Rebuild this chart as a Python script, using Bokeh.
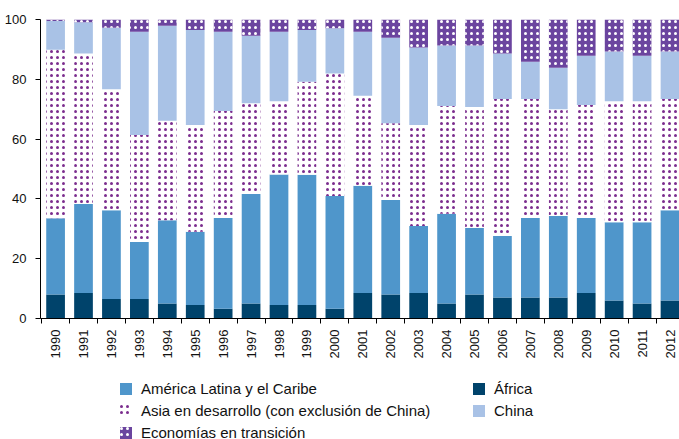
import math
from bokeh.plotting import figure
from bokeh.layouts import column
from bokeh.models import FixedTicker, Legend, LegendItem, ColumnDataSource
from bokeh.embed import file_html
from bokeh.resources import INLINE

years = ["1990", "1991", "1992", "1993", "1994", "1995", "1996", "1997", "1998", "1999",
         "2000", "2001", "2002", "2003", "2004", "2005", "2006", "2007", "2008", "2009",
         "2010", "2011", "2012"]

africa = [8.0, 8.5, 6.5, 6.5, 5.0, 4.5, 3.3, 5.0, 4.5, 4.5, 3.3, 8.5, 8.0, 8.5, 5.0, 8.0,
          7.0, 7.0, 7.0, 8.5, 6.0, 5.0, 6.0]
latam = [25.5, 29.8, 29.7, 19.1, 27.9, 24.5, 30.3, 36.6, 43.7, 43.6, 37.7, 35.9, 31.6, 22.4,
         30.0, 22.3, 20.6, 26.6, 27.3, 25.1, 26.2, 27.2, 30.2]
asia = [56.4, 50.3, 40.5, 35.8, 33.2, 35.7, 35.8, 30.4, 24.5, 31.1, 40.9, 30.1, 25.7, 33.8,
        36.1, 40.4, 45.8, 39.8, 35.7, 37.8, 40.5, 40.5, 37.2]
china = [9.6, 10.5, 20.5, 34.5, 31.8, 31.8, 26.5, 22.6, 23.2, 17.3, 15.2, 21.4, 28.6, 25.9,
         20.2, 20.6, 15.2, 12.5, 13.9, 16.5, 16.6, 15.2, 15.9]
transicion = [0.5, 0.9, 2.8, 4.1, 2.1, 3.5, 4.1, 5.4, 4.1, 3.5, 2.9, 4.1, 6.1, 9.4, 8.7, 8.7,
              11.4, 14.1, 16.1, 12.1, 10.7, 12.1, 10.7]

series = ["africa", "latam", "asia", "china", "transicion"]
labels = {"africa": "África", "latam": "América Latina y el Caribe",
          "asia": "Asia en desarrollo (con exclusión de China)", "china": "China",
          "transicion": "Economías en transición"}
y_ticks = [0, 20, 40, 60, 80, 100]

fills = {"africa": "#00436B", "latam": "#4F96CB", "asia": "white",
         "china": "#A9C2E6", "transicion": "#6B459F"}
hatches = {"africa": " ", "latam": " ", "asia": "dot", "china": " ", "transicion": "dot"}
hcolors = {"africa": "#00436B", "latam": "#4F96CB", "asia": "#7B2D8E",
           "china": "#A9C2E6", "transicion": "white"}

idx = list(range(len(years)))
src = ColumnDataSource(dict(x=idx, africa=africa, latam=latam, asia=asia,
                            china=china, transicion=transicion))

style = dict(width=0.67, source=src,
             fill_color=[fills[s] for s in series],
             line_color=None,
             hatch_pattern=[hatches[s] for s in series],
             hatch_color=[hcolors[s] for s in series],
             hatch_scale=6, hatch_weight=2)

p = figure(width=679, height=361, output_backend="svg", toolbar_location=None,
           x_range=(-0.54, 22.34), y_range=(0, 100),
           min_border_left=40, min_border_right=0, min_border_top=19, min_border_bottom=42)
p.outline_line_color = None
p.xgrid.visible = False
p.ygrid.visible = False
p.vbar_stack(series, x="x", **style)

font = "Liberation Sans"
ya = p.yaxis[0]
ya.ticker = FixedTicker(ticks=y_ticks)
ya.major_tick_out = 5
ya.major_tick_in = 0
ya.minor_tick_out = 0
ya.axis_line_color = "black"
ya.major_tick_line_color = "black"
ya.major_label_text_font = font
ya.major_label_text_font_size = "13px"
ya.major_label_text_color = "#111111"
ya.major_label_standoff = 9

xa = p.xaxis[0]
xa.ticker = FixedTicker(ticks=idx, minor_ticks=[i - 0.5 for i in idx] + [idx[-1] + 0.5])
xa.major_label_overrides = {i: y for i, y in zip(idx, years)}
xa.major_tick_out = 0
xa.major_tick_in = 0
xa.minor_tick_out = 5
xa.minor_tick_in = 0
xa.minor_tick_line_color = "black"
xa.axis_line_color = "black"
xa.major_label_orientation = math.pi / 2
xa.major_label_text_font = font
xa.major_label_text_font_size = "13px"
xa.major_label_text_color = "#111111"
xa.major_label_standoff = 6

# legend panel: same stacked bars, drawn out of its visible range, only to feed the legend
q = figure(width=679, height=78, output_backend="svg", toolbar_location=None,
           x_range=(1000, 1001), y_range=(1000, 1001), x_axis_type=None, y_axis_type=None,
           min_border=0)
q.outline_line_color = None
q.xgrid.visible = False
q.ygrid.visible = False
qrs = q.vbar_stack(series, x="x", **style)
qmap = dict(zip(series, qrs))
order = ["latam", "asia", "transicion", "africa", "china"]

lg = Legend(items=[LegendItem(label=labels[k], renderers=[qmap[k]]) for k in order],
            location=(78, -3), orientation="vertical", ncols=2)
lg.label_text_font = font
lg.label_text_font_size = "15px"
lg.label_text_color = "#111111"
lg.glyph_width = 15
lg.glyph_height = 15
lg.label_standoff = 8
lg.label_height = 20
lg.label_width = 328
lg.spacing = 2
lg.padding = 0
lg.margin = 0
lg.border_line_color = None
lg.background_fill_alpha = 0
q.add_layout(lg, "center")

open("out.html", "w").write(file_html(column(p, q, spacing=0), INLINE))
